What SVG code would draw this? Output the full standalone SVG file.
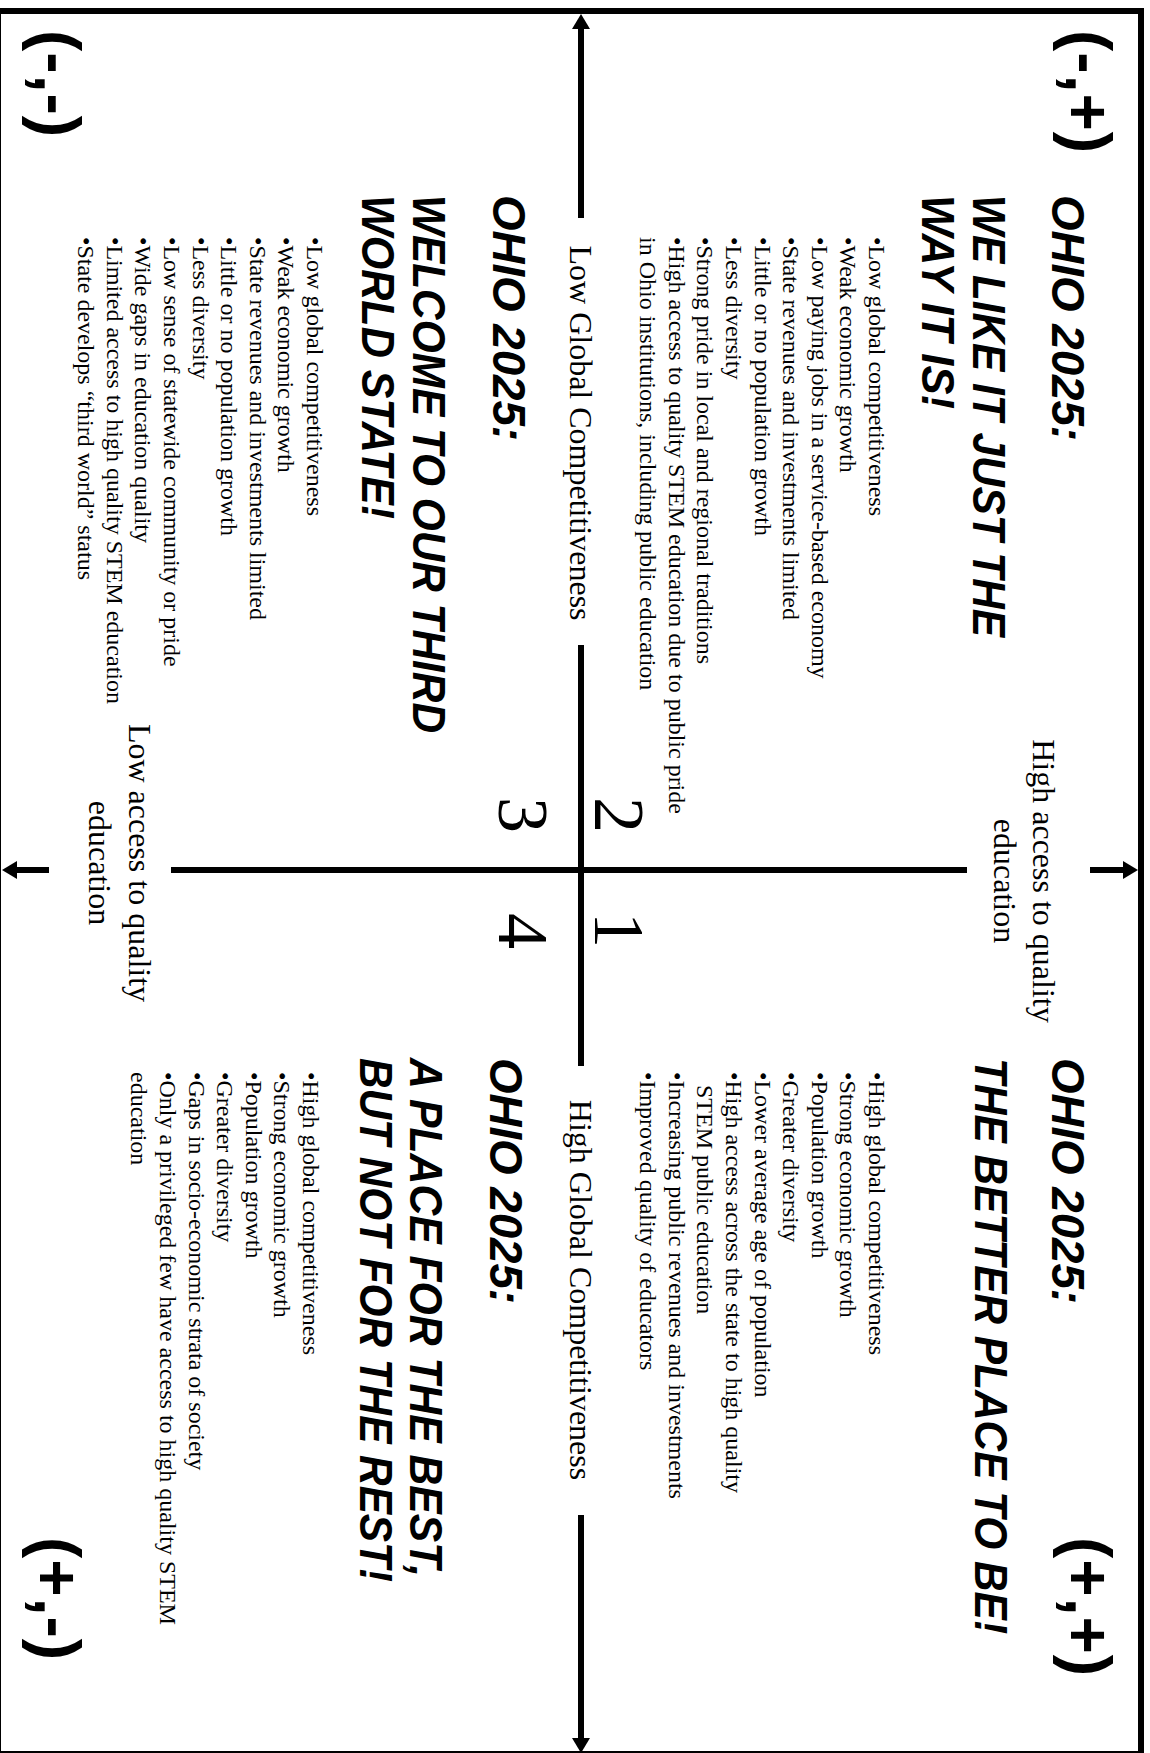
<svg xmlns="http://www.w3.org/2000/svg" width="1150" height="1753" viewBox="0 0 1150 1753">
<style>
.t{font-family:"Liberation Sans",Arial,sans-serif;font-weight:bold;font-style:italic;font-size:47px;fill:#000}
.b{font-family:"Liberation Serif","Times New Roman",serif;font-size:24px;fill:#000}
.lab{font-family:"Liberation Serif","Times New Roman",serif;font-size:32px;fill:#000}
.num{font-family:"Liberation Serif","Times New Roman",serif;font-size:72px;fill:#000}
.c{font-family:"Liberation Sans",Arial,sans-serif;font-weight:bold;font-size:64px;letter-spacing:1px;fill:#000}
.ax{stroke:#000;stroke-width:6;fill:none}
</style>
<defs>
<marker id="ah" markerUnits="userSpaceOnUse" markerWidth="16" markerHeight="18" refX="5" refY="9" orient="auto"><path d="M0,0 L15,9 L0,18 z" fill="#000"/></marker>
</defs>
<rect x="0" y="0" width="1150" height="1753" fill="#fff"/>
<rect id="frame" x="-2" y="11" width="1143" height="1743" fill="#fff" stroke="#000" stroke-width="6"/>
<g transform="translate(1150,0) rotate(90)">
<g id="connectors" class="ax">
<line x1="218" y1="569" x2="24" y2="569" marker-end="url(#ah)"/>
<line x1="645" y1="569" x2="1066" y2="569"/>
<line x1="1515" y1="569" x2="1743" y2="569" marker-end="url(#ah)"/>
<line x1="870" y1="60" x2="870" y2="22" marker-end="url(#ah)"/>
<line x1="870" y1="183" x2="870" y2="979"/>
<line x1="870" y1="1101" x2="870" y2="1138" marker-end="url(#ah)"/>
</g>
<g id="axis-labels">
<text class="lab" x="433" y="580" text-anchor="middle">Low Global Competitiveness</text>
<text class="lab" x="1290" y="580" text-anchor="middle">High Global Competitiveness</text>
<text class="lab" x="881" y="117" text-anchor="middle">High access to quality</text>
<text class="lab" x="881" y="156" text-anchor="middle">education</text>
<text class="lab" x="863" y="1021" text-anchor="middle">Low access to quality</text>
<text class="lab" x="863" y="1061" text-anchor="middle">education</text>
</g>
<g id="quadrant-numbers">
<text class="num" x="833" y="555" text-anchor="end">2</text>
<text class="num" x="912" y="555">1</text>
<text class="num" x="833" y="651" text-anchor="end">3</text>
<text class="num" x="913" y="651">4</text>
</g>
<g id="corners">
<text class="c" x="30" y="84">(-,+)</text>
<text class="c" x="1537" y="84">(+,+)</text>
<text class="c" x="30" y="1115">(-,-)</text>
<text class="c" x="1537" y="1115">(+,-)</text>
</g>
<g id="q2">
<text class="t" x="195" y="98" textLength="246" lengthAdjust="spacingAndGlyphs">OHIO 2025:</text>
<text class="t" x="195" y="177" textLength="442" lengthAdjust="spacingAndGlyphs">WE LIKE IT JUST THE</text>
<text class="t" x="195" y="228" textLength="214" lengthAdjust="spacingAndGlyphs">WAY IT IS!</text>
<text class="b" x="237" y="281">•Low global competitiveness</text>
<text class="b" x="237" y="309.6">•Weak economic growth</text>
<text class="b" x="237" y="338.2">•Low paying jobs in a service-based economy</text>
<text class="b" x="237" y="366.8">•State revenues and investments limited</text>
<text class="b" x="237" y="395.4">•Little or no population growth</text>
<text class="b" x="237" y="424">•Less diversity</text>
<text class="b" x="237" y="452.6">•Strong pride in local and regional traditions</text>
<text class="b" x="237" y="481.2">•High access to quality STEM education due to public pride</text>
<text class="b" x="237" y="509.8">in Ohio institutions, including public education</text>
</g>
<g id="q1">
<text class="t" x="1058" y="98" textLength="246" lengthAdjust="spacingAndGlyphs">OHIO 2025:</text>
<text class="t" x="1058" y="175" textLength="576" lengthAdjust="spacingAndGlyphs">THE BETTER PLACE TO BE!</text>
<text class="b" x="1072" y="281">•High global competitiveness</text>
<text class="b" x="1072" y="309.6">•Strong economic growth</text>
<text class="b" x="1072" y="338.2">•Population growth</text>
<text class="b" x="1072" y="366.8">•Greater diversity</text>
<text class="b" x="1072" y="395.4">•Lower average age of population</text>
<text class="b" x="1072" y="424">•High access across the state to high quality</text>
<text class="b" x="1085" y="452.6">STEM public education</text>
<text class="b" x="1072" y="481.2">•Increasing public revenues and investments</text>
<text class="b" x="1072" y="509.8">•Improved quality of educators</text>
</g>
<g id="q3">
<text class="t" x="195" y="657" textLength="246" lengthAdjust="spacingAndGlyphs">OHIO 2025:</text>
<text class="t" x="195" y="737" textLength="538" lengthAdjust="spacingAndGlyphs">WELCOME TO OUR THIRD</text>
<text class="t" x="195" y="788" textLength="324" lengthAdjust="spacingAndGlyphs">WORLD STATE!</text>
<text class="b" x="237" y="843">•Low global competitiveness</text>
<text class="b" x="237" y="871.6">•Weak economic growth</text>
<text class="b" x="237" y="900.2">•State revenues and investments limited</text>
<text class="b" x="237" y="928.8">•Little or no population growth</text>
<text class="b" x="237" y="957.4">•Less diversity</text>
<text class="b" x="237" y="986">•Low sense of statewide community or pride</text>
<text class="b" x="237" y="1014.6">•Wide gaps in education quality</text>
<text class="b" x="237" y="1043.2">•Limited access to high quality STEM education</text>
<text class="b" x="237" y="1071.8">•State develops “third world” status</text>
</g>
<g id="q4">
<text class="t" x="1058" y="660" textLength="246" lengthAdjust="spacingAndGlyphs">OHIO 2025:</text>
<text class="t" x="1058" y="740" textLength="519" lengthAdjust="spacingAndGlyphs">A PLACE FOR THE BEST,</text>
<text class="t" x="1058" y="790" textLength="524" lengthAdjust="spacingAndGlyphs">BUT NOT FOR THE REST!</text>
<text class="b" x="1072" y="847">•High global competitiveness</text>
<text class="b" x="1072" y="875.6">•Strong economic growth</text>
<text class="b" x="1072" y="904.2">•Population growth</text>
<text class="b" x="1072" y="932.8">•Greater diversity</text>
<text class="b" x="1072" y="961.4">•Gaps in socio-economic strata of society</text>
<text class="b" x="1072" y="990">•Only a privileged few have access to high quality STEM</text>
<text class="b" x="1072" y="1018.6">education</text>
</g>
</g>
</svg>
